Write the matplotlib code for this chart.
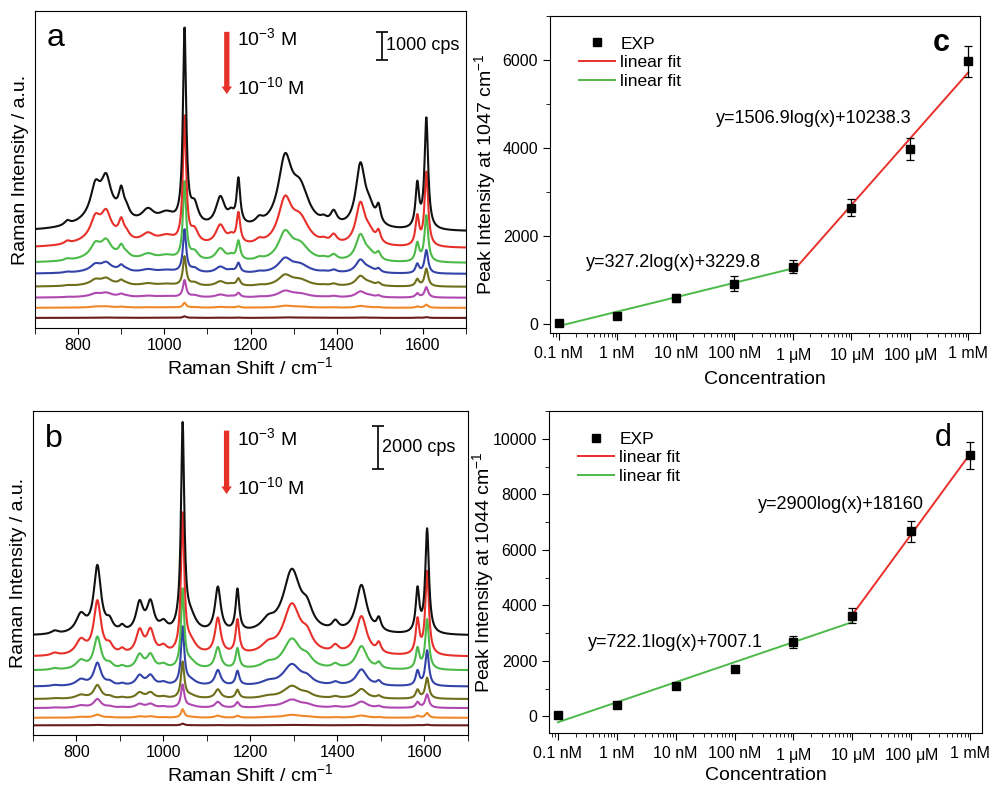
import numpy as np
import matplotlib.pyplot as plt
from matplotlib.lines import Line2D

plt.rcParams['font.family'] = ['Liberation Sans', 'DejaVu Sans']
plt.rcParams['mathtext.fontset'] = 'custom'
plt.rcParams['mathtext.rm'] = 'Liberation Sans'
plt.rcParams['mathtext.it'] = 'Liberation Sans'

# ---------------- data ----------------
# trace colours, highest (1e-3 M) to lowest (1e-10 M)
colors = ['#111111', '#e8302a', '#4cba48', '#3343a8', '#6e6e1c', '#b048b0', '#f0892a', '#6a1c1c']

# panel a : peak positions (cm-1), heights (cps) and half widths of the top spectrum
peaks_a = [775, 840, 865, 860, 900, 912, 962, 1005, 1070, 1130, 1155, 1172, 1220,
           1280, 1315, 1370, 1393, 1455, 1476, 1497, 1587, 1608]
heights_a = [150, 950, 1100, 700, 850, 300, 500, 450, 700, 1050, 350, 1600, 200,
             2300, 1300, 150, 450, 2200, 550, 600, 1550, 3950]
widths_a = [8, 13, 13, 50, 7, 9, 18, 25, 11, 13, 9, 5, 10,
            19, 25, 9, 9, 13, 14, 6, 5, 5]
main_pos_a = 1047
main_height_a = 6900
offsets_a = [3440, 2850, 2320, 1930, 1470, 1080, 720, 360]
scales_a = [1.0, 0.67, 0.42, 0.21, 0.16, 0.093, 0.028, 0.007]
main_scales_a = [1.0, 0.65, 0.40, 0.22, 0.15, 0.087, 0.025, 0.008]

# panel b
peaks_b = [750, 810, 848, 876, 905, 945, 970, 1000, 1062, 1125, 1170, 1240,
           1295, 1330, 1395, 1455, 1495, 1584, 1606]
heights_b = [150, 850, 3100, 450, 250, 1350, 1350, 400, 700, 2100, 1950, 450,
             2900, 800, 400, 2250, 550, 2000, 4850]
widths_b = [10, 14, 10, 9, 7, 10, 10, 10, 16, 8, 5, 18,
            24, 15, 9, 15, 6, 5, 5]
main_pos_b = 1044
main_height_b = 9500
offsets_b = [4620, 3640, 3000, 2250, 1670, 1250, 800, 450]
scales_b = [1.0, 0.80, 0.48, 0.34, 0.20, 0.13, 0.045, 0.006]
main_scales_b = [1.0, 0.67, 0.38, 0.28, 0.175, 0.11, 0.04, 0.008]

# panels c and d : calibration
conc = [1e-10, 1e-9, 1e-8, 1e-7, 1e-6, 1e-5, 1e-4, 1e-3]
conc_labels = ['0.1 nM', '1 nM', '10 nM', '100 nM', '1 $\\mu$M', '10 $\\mu$M', '100 $\\mu$M', '1 mM']
peak_c = [30, 180, 590, 920, 1310, 2650, 3980, 5970]
err_c = [30, 30, 90, 170, 150, 190, 260, 350]
peak_d = [36, 420, 1080, 1700, 2690, 3625, 6660, 9400]
err_d = [40, 60, 60, 60, 210, 280, 380, 490]
# fits: slope, intercept, start, end
fit_low_c = [327.2, 3229.8, 1e-10, 1e-6]
fit_high_c = [1506.9, 10238.3, 1e-6, 1e-3]
fit_low_d = [722.1, 7007.1, 1e-10, 1e-5]
fit_high_d = [2900, 18160, 1e-5, 1e-3]

W, H = 993, 785
fig = plt.figure(figsize=(W / 100, H / 100), dpi=100)

def frac(l, t, r, b):
    return [l / W, 1 - b / H, (r - l) / W, (b - t) / H]

shift = np.arange(700, 1701, 1.0)


def lorentz_sum(pos, hts, wids):
    y = np.zeros_like(shift)
    for p, h, w in zip(pos, hts, wids):
        y += h * w ** 2 / ((shift - p) ** 2 + w ** 2)
    return y


def spectra_panel(ax, pos, hts, wids, mpos, mh, offs, scl, mscl, ytop, letter, bar, bar_pos):
    base = lorentz_sum(pos, hts, wids)
    main = lorentz_sum([mpos], [mh], [4.5])
    for i in range(len(offs))[::-1]:
        ax.plot(shift, offs[i] + scl[i] * base + mscl[i] * main, color=colors[i], lw=1.5)
    ax.set_xlim(700, 1700)
    ax.set_ylim(0, ytop)
    ax.set_yticks([])
    ax.set_xticks(np.arange(800, 1601, 200))
    ax.set_xticks(np.arange(700, 1701, 100), minor=True)
    ax.tick_params(axis='x', which='both', direction='out', length=4, labelsize=11.5, top=False)
    ax.set_xlabel('Raman Shift / cm$^{-1}$', fontsize=14, labelpad=2)
    ax.set_ylabel('Raman Intensity / a.u.', fontsize=14, labelpad=4)
    ax.text(0.028, 0.915, letter, transform=ax.transAxes, fontsize=23, va='center', ha='left')
    # concentration arrow
    ax.annotate('', xy=(0.445, bar_pos[2]), xytext=(0.445, bar_pos[1]), xycoords='axes fraction',
                arrowprops=dict(arrowstyle='simple,head_width=0.75,head_length=0.55,tail_width=0.38',
                                mutation_scale=10, color='#e8302a', lw=0))
    ax.text(0.468, bar_pos[3], '10$^{-3}$ M', transform=ax.transAxes, fontsize=14, va='center')
    ax.text(0.468, bar_pos[4], '10$^{-10}$ M', transform=ax.transAxes, fontsize=14, va='center')
    # intensity scale bar
    bx, by = bar_pos[0], bar_pos[5]
    ax.errorbar([bx], [by - bar / 2], yerr=[bar / 2], color='k', capsize=4, lw=1.2, capthick=1.2)
    ax.text(bx + 10, by - bar / 2, '%d cps' % bar, fontsize=13, va='center')


ax_a = fig.add_axes(frac(35, 11, 466, 328))
spectra_panel(ax_a, peaks_a, heights_a, widths_a, main_pos_a, main_height_a,
              offsets_a, scales_a, main_scales_a, 11320, 'a', 1000,
              [1505, 0.943, 0.729, 0.915, 0.760, 10573])

ax_b = fig.add_axes(frac(33, 411, 468, 735))
spectra_panel(ax_b, peaks_b, heights_b, widths_b, main_pos_b, main_height_b,
              offsets_b, scales_b, main_scales_b, 15070, 'b', 2000,
              [1493, 0.948, 0.735, 0.917, 0.765, 14372])


def calib_panel(ax, vals, errs, fit_low, fit_high, ylim, yticks, yminor, label, letter, eq_pos, xpad):
    ax.errorbar(conc, vals, yerr=errs, fmt='s', color='k', ms=5.5, capsize=3, elinewidth=0.9,
                capthick=0.9, zorder=3)
    for f, c in [(fit_low, '#4cba48'), (fit_high, '#e8302a')]:
        xs = np.array([f[2], f[3]])
        ax.plot(xs, f[0] * np.log10(xs) + f[1], color=c, lw=1.4, zorder=2)
    ax.set_xscale('log')
    ax.set_xlim(10 ** -10.15, 10 ** -2.8)
    ax.set_ylim(*ylim)
    ax.set_xticks(conc)
    ax.set_xticklabels(conc_labels)
    ax.set_yticks(yticks)
    ax.set_yticks(yminor, minor=True)
    ax.tick_params(axis='both', which='both', direction='out', labelsize=11.5, top=False, right=False)
    ax.tick_params(axis='both', which='major', length=5)
    ax.tick_params(axis='both', which='minor', length=3)
    ax.tick_params(axis='x', which='major', pad=4.5)
    ax.set_xlabel('Concentration', fontsize=14, labelpad=xpad)
    ax.set_ylabel(label, fontsize=14)
    ax.yaxis.set_label_coords(-0.122, 0.5)
    ax.text(0.91, 0.915, letter, transform=ax.transAxes, fontsize=22,
            fontweight='bold' if letter == 'c' else 'normal', ha='center', va='center')
    ax.text(eq_pos[0], eq_pos[1], 'y=%glog(x)+%g' % (fit_high[0], fit_high[1]),
            transform=ax.transAxes, fontsize=13, va='center')
    ax.text(eq_pos[2], eq_pos[3], 'y=%glog(x)+%g' % (fit_low[0], fit_low[1]),
            transform=ax.transAxes, fontsize=13, va='center')
    handles = [Line2D([], [], marker='s', color='k', ls='none', ms=5.5),
               Line2D([], [], color='#e8302a', lw=1.4),
               Line2D([], [], color='#4cba48', lw=1.4)]
    ax.legend(handles, ['EXP', 'linear fit', 'linear fit'], loc='upper left',
              bbox_to_anchor=(0.03, 0.985), frameon=False, fontsize=12.5,
              handlelength=2.1, handletextpad=0.3, labelspacing=0.2)


ax_c = fig.add_axes(frac(550, 16, 980, 333))
calib_panel(ax_c, peak_c, err_c, fit_low_c, fit_high_c, (-200, 7000),
            [0, 2000, 4000, 6000], np.arange(0, 7001, 1000),
            'Peak Intensity at 1047 cm$^{-1}$', 'c', [0.386, 0.678, 0.084, 0.221], 4)

ax_d = fig.add_axes(frac(549, 411, 982, 733))
calib_panel(ax_d, peak_d, err_d, fit_low_d, fit_high_d, (-600, 11000),
            [0, 2000, 4000, 6000, 8000, 10000], np.arange(0, 11001, 1000),
            'Peak Intensity at 1044 cm$^{-1}$', 'd', [0.483, 0.711, 0.09, 0.28], 1)

fig.savefig('out.png', dpi=100)
